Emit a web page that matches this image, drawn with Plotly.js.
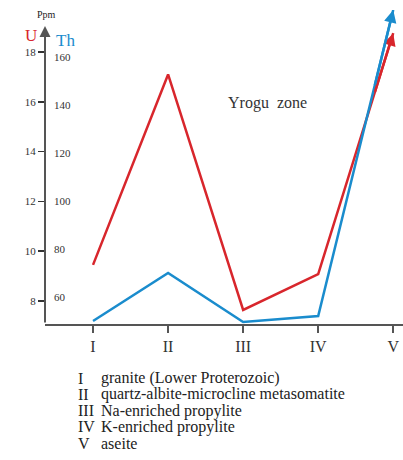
<!DOCTYPE html>
<html>
<head>
<meta charset="utf-8">
<script src="https://cdn.plot.ly/plotly-3.0.1.min.js"></script>
<style>html,body{margin:0;padding:0;background:#fff;}#chart{width:403px;height:460px;}</style>
</head>
<body>
<div id="chart"></div>
<script>
// Data
const categories = ['I', 'II', 'III', 'IV', 'V'];
const uValues = [9.45, 17.1, 7.64, 9.08, 18.76];
const thValues = [50, 70, 49.6, 52.1, 179.6];
const uTicks = [8, 10, 12, 14, 16, 18];
const thTicks = [60, 80, 100, 120, 140, 160];
const legendNumerals = ['I', 'II', 'III', 'IV', 'V'];
const legendTexts = [
  'granite (Lower Proterozoic)',
  'quartz-albite-microcline metasomatite',
  'Na-enriched propylite',
  'K-enriched propylite',
  'aseite'
];

const serif = 'Liberation Serif, Times New Roman, serif';
const red = '#d8262c';
const blue = '#1a8ccd';
const axisCol = '#555555';

const uRange = [7.076, 19.69];
const thRange = [48.75, 179.6];

const traces = [
  {x: categories, y: uValues, type: 'scatter', mode: 'lines',
   line: {color: red, width: 2.5}, cliponaxis: false, yaxis: 'y', hoverinfo: 'skip'},
  {x: categories, y: thValues, type: 'scatter', mode: 'lines',
   line: {color: blue, width: 2.5}, cliponaxis: false, yaxis: 'y2', hoverinfo: 'skip'}
];

// arrowheads at the end of each series, pointing along the last segment
function endArrow(vals, yref, color) {
  const n = vals.length;
  const f = 0.75;
  return {
    xref: 'x', yref: yref, axref: 'x', ayref: yref,
    x: n - 1, y: vals[n - 1],
    ax: (n - 2) + f, ay: vals[n - 2] + f * (vals[n - 1] - vals[n - 2]),
    text: '', showarrow: true, arrowhead: 2, arrowsize: 1, arrowwidth: 2.5, arrowcolor: color
  };
}

const annotations = [
  endArrow(uValues, 'y', red),
  endArrow(thValues, 'y2', blue),
  // y axis line with arrowhead
  {xref: 'paper', yref: 'paper', x: 0, y: (324 - 26) / 314, ax: 0, ay: 298, axref: 'pixel', ayref: 'pixel',
   text: '', showarrow: true, arrowhead: 2, arrowsize: 1.1, arrowwidth: 2, arrowcolor: axisCol},
  {xref: 'paper', yref: 'paper', x: 1 / 358, y: (324 - 14) / 314, text: 'Ppm', showarrow: false,
   font: {family: serif, size: 10, color: '#222'}, xanchor: 'center', yanchor: 'middle'},
  {xref: 'paper', yref: 'paper', x: -14 / 358, y: (324 - 36) / 314, text: 'U', showarrow: false,
   font: {family: serif, size: 17, color: red}, xanchor: 'center', yanchor: 'middle'},
  {xref: 'paper', yref: 'paper', x: 20 / 358, y: (324 - 41) / 314, text: 'Th', showarrow: false,
   font: {family: serif, size: 17, color: blue}, xanchor: 'center', yanchor: 'middle'},
  {xref: 'paper', yref: 'paper', x: 222 / 358, y: (324 - 103) / 314, text: 'Yrogu  zone', showarrow: false,
   font: {family: serif, size: 16, color: '#333'}, xanchor: 'center', yanchor: 'middle'}
];

legendNumerals.forEach((num, i) => {
  const yPix = 378 + i * 16.3;
  const yPaper = (324 - yPix) / 314;
  annotations.push({xref: 'paper', yref: 'paper', x: (76 - 45) / 358, y: yPaper, text: num, showarrow: false,
    font: {family: serif, size: 16, color: '#222'}, xanchor: 'left', yanchor: 'middle'});
  annotations.push({xref: 'paper', yref: 'paper', x: (99 - 45) / 358, y: yPaper, text: legendTexts[i], showarrow: false,
    font: {family: serif, size: 16, color: '#222'}, xanchor: 'left', yanchor: 'middle'});
});

const layout = {
  width: 403, height: 460,
  margin: {l: 45, r: 0, t: 10, b: 136},
  paper_bgcolor: '#fff', plot_bgcolor: '#fff',
  showlegend: false,
  xaxis: {
    type: 'category', range: [-0.64, 4.13],
    showline: true, linecolor: axisCol, linewidth: 2,
    ticks: 'outside', ticklen: 7, tickwidth: 1.5, tickcolor: axisCol,
    showgrid: false, zeroline: false,
    tickfont: {family: serif, size: 16, color: '#333'}
  },
  yaxis: {
    range: uRange, tickvals: uTicks,
    showline: false, showgrid: false, zeroline: false,
    ticks: 'outside', ticklen: 6, tickwidth: 1.5, tickcolor: '#333',
    tickfont: {family: serif, size: 11, color: '#333'}
  },
  yaxis2: {
    range: thRange, tickvals: thTicks, overlaying: 'y', side: 'left', anchor: 'x',
    ticklabelposition: 'inside', ticks: '', showline: false, showgrid: false, zeroline: false,
    ticklabelstandoff: 6,
    tickfont: {family: serif, size: 11, color: '#333'}
  },
  annotations: annotations
};

Plotly.newPlot('chart', traces, layout, {displayModeBar: false, staticPlot: true});
</script>
</body>
</html>
